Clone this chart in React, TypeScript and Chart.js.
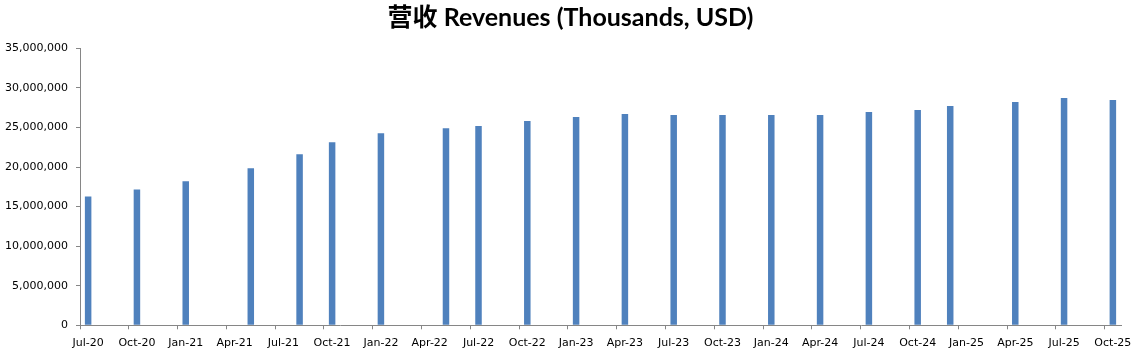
import React, { useEffect, useRef } from "react";
import { Chart, registerables } from "chart.js";

Chart.register(...registerables);

// Month categories of the date axis (monthly base unit), Jul-20 .. Oct-25
const MONTH_NAMES = ["Jan", "Feb", "Mar", "Apr", "May", "Jun", "Jul", "Aug", "Sep", "Oct", "Nov", "Dec"];
const START_YEAR = 2020;
const START_MONTH = 6; // July (0-based)
const MONTH_COUNT = 64;

// Reporting periods that have a bar
const barMonths = [
  "Jul-20", "Oct-20", "Jan-21", "May-21", "Aug-21", "Oct-21", "Jan-22", "May-22",
  "Jul-22", "Oct-22", "Jan-23", "Apr-23", "Jul-23", "Oct-23", "Jan-24", "Apr-24",
  "Jul-24", "Oct-24", "Dec-24", "Apr-25", "Jul-25", "Oct-25",
];

// Revenues (thousands, USD)
const revenues = [
  16280000, 17170000, 18190000, 19840000, 21610000, 23130000, 24280000, 24910000,
  25170000, 25800000, 26310000, 26690000, 26560000, 26560000, 26560000, 26560000,
  26940000, 27200000, 27700000, 28210000, 28720000, 28460000,
];

const yTickValues = [0, 5000000, 10000000, 15000000, 20000000, 25000000, 30000000, 35000000];

const TITLE = "营收 Revenues (Thousands, USD)";

function buildMonthLabels(): string[] {
  const out: string[] = [];
  for (let i = 0; i < MONTH_COUNT; i++) {
    const m = (START_MONTH + i) % 12;
    const y = START_YEAR + Math.floor((START_MONTH + i) / 12);
    out.push(`${MONTH_NAMES[m]}-${String(y % 100).padStart(2, "0")}`);
  }
  return out;
}

export default function App() {
  const canvasRef = useRef<HTMLCanvasElement | null>(null);

  useEffect(() => {
    const canvas = canvasRef.current;
    if (!canvas) return;
    const labels = buildMonthLabels();
    const data = labels.map((l) => {
      const idx = barMonths.indexOf(l);
      return idx >= 0 ? revenues[idx] : null;
    });
    const axisGray = "#868686";
    const tickFont = { family: "'DejaVu Sans', Verdana, sans-serif", size: 11 };

    const chart = new Chart(canvas, {
      type: "bar",
      data: {
        labels,
        datasets: [
          {
            label: "Revenues",
            data,
            backgroundColor: "#4F81BD",
            borderWidth: 0,
            barPercentage: 0.4,
            categoryPercentage: 1,
          },
        ],
      },
      options: {
        responsive: false,
        animation: false,
        layout: { padding: { left: 0, right: 0, top: 0, bottom: 0 } },
        plugins: {
          legend: { display: false },
          tooltip: { enabled: false },
          title: {
            display: true,
            text: TITLE,
            color: "#000000",
            font: { family: "Lato, 'Noto Sans CJK SC', sans-serif", size: 25, weight: "bold", lineHeight: 1.2 },
            padding: { top: 2.5, bottom: 15.8 },
          },
        },
        scales: {
          x: {
            offset: true,
            grid: {
              offset: true,
              drawOnChartArea: false,
              drawTicks: true,
              tickLength: 4,
              color: (ctx: any) => (typeof ctx.index === "number" && ctx.index % 3 === 0 ? axisGray : "rgba(0,0,0,0)"),
            },
            border: { display: true, color: axisGray, width: 1 },
            ticks: {
              autoSkip: false,
              maxRotation: 0,
              minRotation: 0,
              padding: 7,
              color: "#000000",
              font: tickFont,
              callback: (_v: any, i: number) => (i % 3 === 0 ? labels[i] : ""),
            },
            afterFit: (s: any) => {
              s.height = 35.7;
            },
          },
          y: {
            min: 0,
            max: 35000000,
            grid: {
              drawOnChartArea: false,
              drawTicks: true,
              tickLength: 4,
              color: axisGray,
            },
            border: { display: true, color: axisGray, width: 1 },
            afterBuildTicks: (s: any) => {
              s.ticks = yTickValues.map((v) => ({ value: v }));
            },
            ticks: {
              padding: 8,
              color: "#000000",
              font: tickFont,
              callback: (v: any) => Number(v).toLocaleString("en-US"),
            },
            afterFit: (s: any) => {
              s.width = 80;
            },
          },
          // empty right-hand spacer so the title stays centred on the full width
          spacer: {
            type: "linear",
            position: "right",
            display: true,
            grid: { display: false, drawTicks: false },
            border: { display: false },
            ticks: { display: false },
            afterFit: (s: any) => {
              s.width = 20;
            },
          },
        },
      },
    });
    return () => chart.destroy();
  }, []);

  return (
    <div style={{ position: "absolute", left: 0, top: 0, width: 1141, height: 361, background: "#ffffff" }}>
      <canvas ref={canvasRef} width={1141} height={361} style={{ display: "block", width: 1141, height: 361 }} />
    </div>
  );
}
